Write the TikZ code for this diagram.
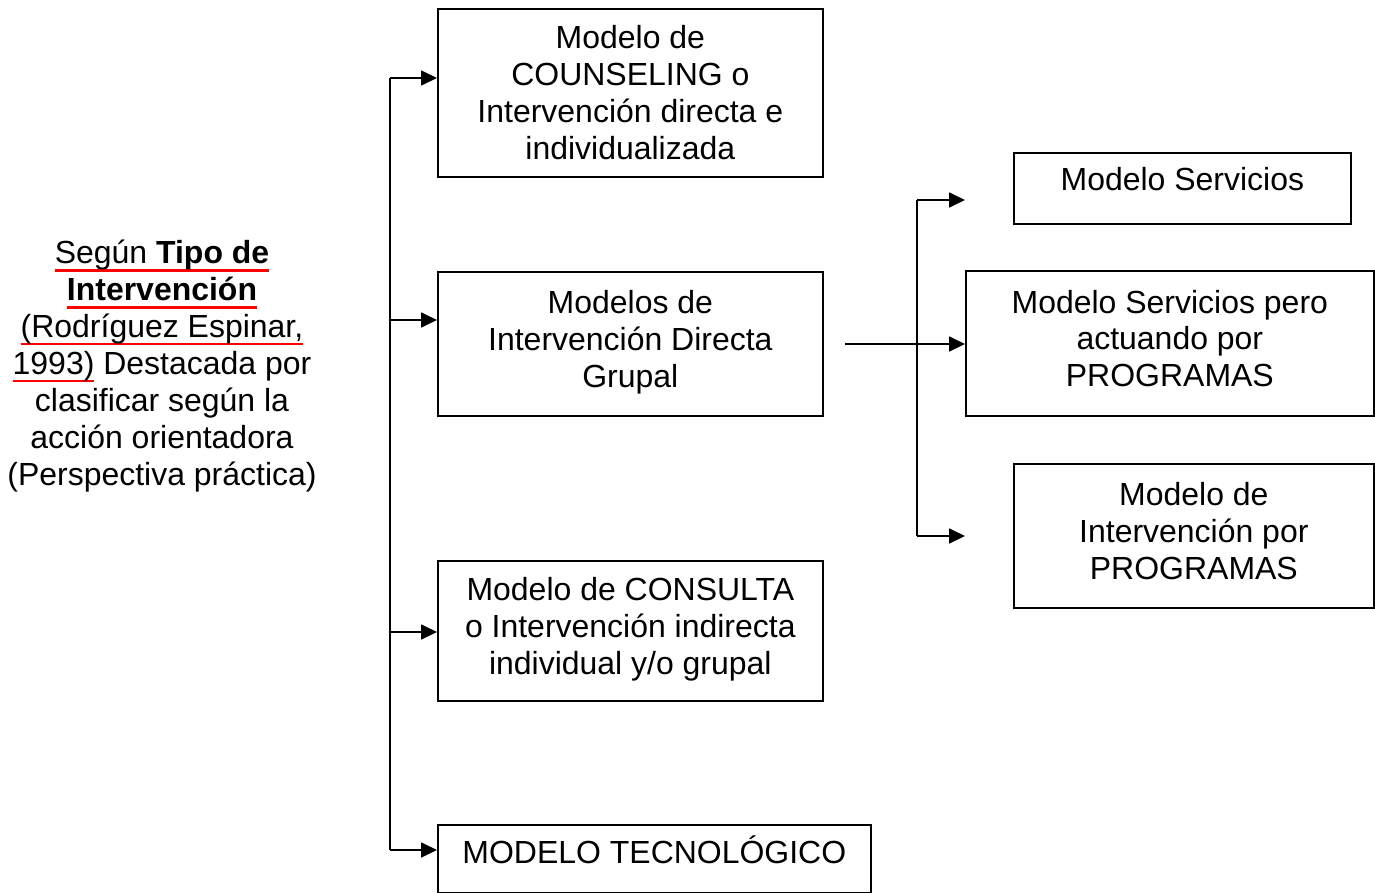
\documentclass[tikz,border=0pt]{standalone}
\usepackage{fontspec}
\setmainfont{Liberation Sans}
\usetikzlibrary{arrows.meta}

\newcommand\redline[1]{\setbox0\hbox{#1}\rlap{\color{red}\rule[-4.5pt]{\wd0}{1.5pt}}\box0\relax}

\begin{document}
\begin{tikzpicture}[
    x=0.02cm, y=-0.02cm,
    every node/.style={font=\fontsize{18.2}{21}\selectfont},
    box/.style={rectangle, draw, line width=1pt, align=center, anchor=north west, inner sep=0pt},
    arrow/.style={-{Triangle[length=0.32cm, width=0.3cm]}, line width=1pt},
    line/.style={line width=1pt}
]
    \useasboundingbox (0,0) rectangle (1375,892);

    \node[align=center] (tipo) at (162,366) {\redline{Según \textbf{Tipo de}}\\\redline{\textbf{Intervención}}\\\redline{(Rodríguez Espinar,}\\\redline{1993)} Destacada por\\clasificar según la\\acción orientadora\\(Perspectiva práctica)};

    \node[box, minimum width=7.7cm, minimum height=3.36cm] (counseling) at (437,8) {Modelo de\\COUNSELING o\\Intervención directa e\\individualizada};
    \node[box, minimum width=7.7cm, minimum height=2.88cm, text depth=0.2cm] (grupal) at (437,271) {Modelos de\\Intervención Directa\\Grupal};
    \node[box, minimum width=7.7cm, minimum height=2.8cm, text depth=0.2cm] (consulta) at (437,560) {Modelo de CONSULTA\\o Intervención indirecta\\individual y/o grupal};
    \node[box, minimum width=8.66cm, minimum height=1.36cm, text depth=0.37cm] (tecno) at (437,824) {MODELO TECNOLÓGICO};

    \node[box, minimum width=6.74cm, minimum height=1.42cm, text depth=0.37cm] (servicios) at (1013,152) {Modelo Servicios};
    \node[box, minimum width=8.16cm, minimum height=2.9cm, text depth=0.2cm] (serprog) at (965,270) {Modelo Servicios pero\\actuando por\\PROGRAMAS};
    \node[box, minimum width=7.2cm, minimum height=2.88cm, text depth=0.2cm] (programas) at (1013,463) {Modelo de\\Intervención por\\PROGRAMAS};

    % main trunk
    \coordinate (t1) at (390,78);
    \coordinate (t2) at (390,320);
    \coordinate (t3) at (390,632);
    \coordinate (t4) at (390,850);
    \draw[line] (t1) -- (t4);
    \draw[arrow] (t1) -- (t1 -| counseling.west);
    \draw[arrow] (t2) -- (t2 -| grupal.west);
    \draw[arrow] (t3) -- (t3 -| consulta.west);
    \draw[arrow] (t4) -- (t4 -| tecno.west);

    % branch of the group model
    \coordinate (g) at (845,344);
    \coordinate (b1) at (917,200);
    \coordinate (b2) at (917,536);
    \coordinate (e1) at (965,200);
    \coordinate (e2) at (965,536);
    \draw[arrow] (g) -- (g -| serprog.west);
    \draw[line] (b1) -- (b2);
    \draw[arrow] (b1) -- (e1);
    \draw[arrow] (b2) -- (e2);
\end{tikzpicture}
\end{document}
